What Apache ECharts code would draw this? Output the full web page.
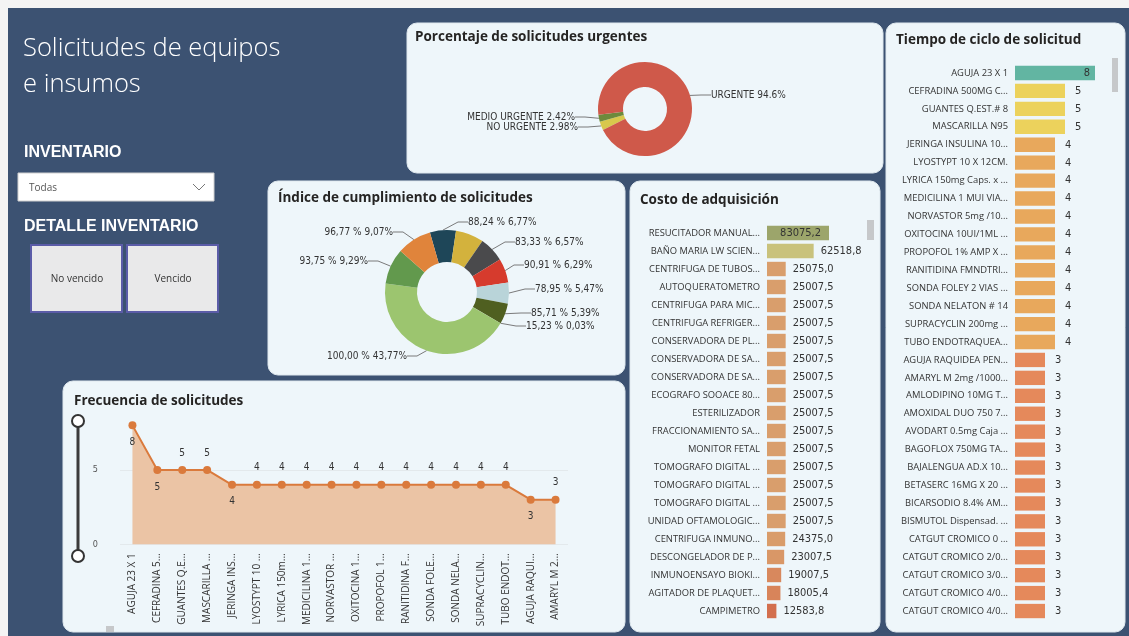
<!DOCTYPE html>
<html>
<head>
<meta charset="utf-8">
<title>Solicitudes de equipos e insumos</title>
<script src="https://cdn.jsdelivr.net/npm/echarts@6/dist/echarts.min.js"></script>
<style>
  html, body { margin: 0; padding: 0; background: #ffffff; }
  #dash { width: 1129px; height: 636px; }
</style>
</head>
<body>
<div id="dash"></div>
<script>
// ---- Porcentaje de solicitudes urgentes ----
const urgencyNames = ['NO URGENTE', 'MEDIO URGENTE', 'URGENTE'];
const urgencyValues = [2.98, 2.42, 94.6];

// ---- Índice de cumplimiento de solicitudes (slice name = % cumplimiento) ----
const complianceNames = ['88,24 %', '', '83,33 %', '90,91 %', '78,95 %', '85,71 %', '15,23 %', '100,00 %', '93,75 %', '96,77 %'];
const complianceValues = [6.77, 7.35, 6.57, 6.29, 5.47, 5.39, 0.03, 43.77, 9.29, 9.07];

// ---- Costo de adquisición ----
const costItems = [
  'RESUCITADOR MANUAL...', 'BAÑO MARIA LW SCIEN...', 'CENTRIFUGA DE TUBOS...', 'AUTOQUERATOMETRO',
  'CENTRIFUGA PARA MIC...', 'CENTRIFUGA REFRIGER...', 'CONSERVADORA DE PL...', 'CONSERVADORA DE SA...',
  'CONSERVADORA DE SA... ', 'ECOGRAFO SOOACE 80...', 'ESTERILIZADOR', 'FRACCIONAMIENTO SA...',
  'MONITOR FETAL', 'TOMOGRAFO DIGITAL ...', 'TOMOGRAFO DIGITAL ... ', 'TOMOGRAFO DIGITAL ...  ',
  'UNIDAD OFTAMOLOGIC...', 'CENTRIFUGA INMUNO...', 'DESCONGELADOR DE P...', 'INMUNOENSAYO BIOKI...',
  'AGITADOR DE PLAQUET...', 'CAMPIMETRO'
];
const costValues = [
  83075.2, 62518.8, 25075.0, 25007.5, 25007.5, 25007.5, 25007.5, 25007.5, 25007.5, 25007.5, 25007.5,
  25007.5, 25007.5, 25007.5, 25007.5, 25007.5, 25007.5, 24375.0, 23007.5, 19007.5, 18005.4, 12583.8
];

// ---- Tiempo de ciclo de solicitud ----
const cycleItems = [
  'AGUJA 23 X 1', 'CEFRADINA 500MG C...', 'GUANTES Q.EST.# 8', 'MASCARILLA N95', 'JERINGA INSULINA 10...',
  'LYOSTYPT 10 X 12CM.', 'LYRICA 150mg Caps. x ...', 'MEDICILINA 1 MUI VIA...', 'NORVASTOR 5mg /10...',
  'OXITOCINA 10UI/1ML ...', 'PROPOFOL 1% AMP X ...', 'RANITIDINA FMNDTRI...', 'SONDA FOLEY 2 VIAS ...',
  'SONDA NELATON # 14', 'SUPRACYCLIN 200mg ...', 'TUBO ENDOTRAQUEA...', 'AGUJA RAQUIDEA PEN...',
  'AMARYL M 2mg /1000...', 'AMLODIPINO 10MG T...', 'AMOXIDAL DUO 750 7...', 'AVODART 0.5mg Caja ...',
  'BAGOFLOX 750MG TA...', 'BAJALENGUA AD.X 10...', 'BETASERC 16MG X 20 ...', 'BICARSODIO 8.4% AM...',
  'BISMUTOL Dispensad. ...', 'CATGUT CROMICO 0 ...', 'CATGUT CROMICO 2/0...', 'CATGUT CROMICO 3/0...',
  'CATGUT CROMICO 4/0...', 'CATGUT CROMICO 4/0... '
];
const cycleValues = [8, 5, 5, 5, 4, 4, 4, 4, 4, 4, 4, 4, 4, 4, 4, 4, 3, 3, 3, 3, 3, 3, 3, 3, 3, 3, 3, 3, 3, 3, 3];

// ---- Frecuencia de solicitudes ----
const freqItems = [
  'AGUJA 23 X 1', 'CEFRADINA 5...', 'GUANTES Q.E...', 'MASCARILLA ...', 'JERINGA INS...', 'LYOSTYPT 10 ...',
  'LYRICA 150m...', 'MEDICILINA 1...', 'NORVASTOR ...', 'OXITOCINA 1...', 'PROPOFOL 1...', 'RANITIDINA F...',
  'SONDA FOLE...', 'SONDA NELA...', 'SUPRACYCLIN...', 'TUBO ENDOT...', 'AGUJA RAQUI...', 'AMARYL M 2...'
];
const freqValues = [8, 5, 5, 5, 4, 4, 4, 4, 4, 4, 4, 4, 4, 4, 4, 4, 3, 3];
const freqAxisTicks = [0, 5];

// ---------- styling helpers ----------
const UI_FONT = "'Open Sans', 'Noto Sans', sans-serif";
const NUM_FONT = "'Liberation Sans Narrow', 'DejaVu Sans Condensed', sans-serif";
const PANEL = '#eef6fa';
const INK = '#252423';

function hexToRgb(h) {
  const n = parseInt(h.slice(1), 16);
  return [(n >> 16) & 255, (n >> 8) & 255, n & 255];
}
// piecewise-linear colour ramp: stops = [[value, '#hex'], ...] ascending
function ramp(stops) {
  return function (v) {
    if (v <= stops[0][0]) return stops[0][1];
    for (let i = 1; i < stops.length; i++) {
      if (v <= stops[i][0]) {
        const t = (v - stops[i - 1][0]) / (stops[i][0] - stops[i - 1][0]);
        const a = hexToRgb(stops[i - 1][1]), b = hexToRgb(stops[i][1]);
        const c = a.map((x, k) => Math.round(x + (b[k] - x) * t));
        return `rgb(${c[0]},${c[1]},${c[2]})`;
      }
    }
    return stops[stops.length - 1][1];
  };
}
const costColor = ramp([[12583.8, '#d36f4e'], [18005.4, '#d8845a'], [25007.5, '#d99e6c'], [62518.8, '#c9c27c'], [83075.2, '#9ca56b']]);
const cycleColor = ramp([[3, '#e5895b'], [4, '#e8a85c'], [5, '#ecd25c'], [8, '#62b5a2']]);
const commaNum = (v, d) => v.toFixed(d).replace('.', ',');

// ---------- label anchor positions for the donuts ----------
const urgencyLabelAt = [
  { x: 581, y: 127, align: 'right' },
  { x: 578, y: 117, align: 'right' },
  { x: 708, y: 95, align: 'left' }
];
const complianceLabelAt = [
  { x: 465, y: 222, align: 'left' },
  null,
  { x: 512, y: 242, align: 'left' },
  { x: 521, y: 265, align: 'left' },
  { x: 532, y: 289, align: 'left' },
  { x: 528, y: 313, align: 'left' },
  { x: 523, y: 326, align: 'left' },
  { x: 410, y: 356, align: 'right' },
  { x: 371, y: 261, align: 'right' },
  { x: 396, y: 232, align: 'right' }
];
const complianceColors = ['#1e4658', '#d3b23d', '#4a4a4c', '#d63b2d', '#b9d4d9', '#4f5f20', '#8f9c78', '#9cc56f', '#62994d', '#e0843b'];
const urgencyColors = ['#d8c84c', '#6d8a3c', '#cf594a'];
const freqBelow = [0, 1, 4, 16];

// ---------- static page furniture ----------
function panel(x, y, w, h) {
  return { type: 'rect', shape: { x, y, width: w, height: h, r: 10 }, style: { fill: PANEL, stroke: '#dfe8ee', lineWidth: 1 }, z: 0 };
}
function txt(text, x, y, font, fill, align) {
  return { type: 'text', x, y, z: 5, style: { text, font, fill: fill || INK, align: align || 'left', verticalAlign: 'middle', textAlign: align || 'left', textVerticalAlign: 'middle' } };
}
const TITLE_FONT = "bold 13.5px " + UI_FONT;
const graphics = [
  { type: 'rect', shape: { x: 0, y: 0, width: 1129, height: 636 }, style: { fill: '#f4f4f4' }, z: -2 },
  { type: 'rect', shape: { x: 8, y: 8, width: 1121, height: 628 }, style: { fill: '#3c5272' }, z: -1 },
  panel(407, 23, 476, 150),
  panel(268, 181, 357, 194),
  panel(630, 181, 250, 451),
  panel(886, 23, 239, 609),
  panel(63, 381, 562, 251),
  txt('Solicitudes de equipos', 23, 49, "300 25.5px 'Open Sans', 'Noto Sans', sans-serif", '#ffffff'),
  txt('e insumos', 23, 85, "300 25.5px 'Open Sans', 'Noto Sans', sans-serif", '#ffffff'),
  txt('INVENTARIO', 24, 153, "bold 16px 'Liberation Sans', Arial, sans-serif", '#ffffff'),
  { type: 'rect', shape: { x: 18, y: 173, width: 196, height: 28 }, style: { fill: '#ffffff', stroke: '#d0d0d0' }, z: 3 },
  txt('Todas', 29, 188, "10px 'Open Sans', sans-serif", '#555555'),
  { type: 'polyline', shape: { points: [[193, 184], [199, 190], [205, 184]] }, style: { stroke: '#777777', lineWidth: 1, fill: null }, z: 5 },
  txt('DETALLE INVENTARIO', 24, 227, "bold 16px 'Liberation Sans', Arial, sans-serif", '#ffffff'),
  { type: 'rect', shape: { x: 31, y: 245, width: 91, height: 67 }, style: { fill: '#e9e9ea', stroke: '#5b5ca8', lineWidth: 2 }, z: 3 },
  { type: 'rect', shape: { x: 127, y: 245, width: 91, height: 67 }, style: { fill: '#e9e9ea', stroke: '#5b5ca8', lineWidth: 2 }, z: 3 },
  txt('No vencido', 77, 279, "10px 'Open Sans', sans-serif", '#333333', 'center'),
  txt('Vencido', 173, 279, "10px 'Open Sans', sans-serif", '#333333', 'center'),
  txt('Porcentaje de solicitudes urgentes', 415, 37, TITLE_FONT),
  txt('Índice de cumplimiento de solicitudes', 278, 198, TITLE_FONT),
  txt('Costo de adquisición', 640, 200, TITLE_FONT),
  txt('Tiempo de ciclo de solicitud', 896, 40, TITLE_FONT),
  txt('Frecuencia de solicitudes', 74, 401, TITLE_FONT),
  // scroll thumbs
  { type: 'rect', shape: { x: 867, y: 220, width: 7, height: 20 }, style: { fill: '#c6c8ca' }, z: 4 },
  { type: 'rect', shape: { x: 1112, y: 58, width: 6, height: 34 }, style: { fill: '#c6c8ca' }, z: 4 },
  { type: 'rect', shape: { x: 106, y: 626, width: 8, height: 6 }, style: { fill: '#c6c8ca' }, z: 4 },
  // vertical range slider
  { type: 'line', shape: { x1: 78, y1: 421, x2: 78, y2: 556 }, style: { stroke: '#3b3b3b', lineWidth: 3 }, z: 4 },
  { type: 'circle', shape: { cx: 78, cy: 421, r: 6 }, style: { fill: '#ffffff', stroke: '#333333', lineWidth: 2 }, z: 5 },
  { type: 'circle', shape: { cx: 78, cy: 556, r: 6 }, style: { fill: '#ffffff', stroke: '#333333', lineWidth: 2 }, z: 5 }
];

const chart = echarts.init(document.getElementById('dash'), null, { renderer: 'canvas' });

const option = {
  animation: false,
  backgroundColor: 'transparent',
  graphic: { elements: graphics },
  grid: [
    { left: 767, top: 224, width: 62, height: 396, containLabel: false },
    { left: 1015, top: 64, width: 80, height: 556, containLabel: false },
    { left: 120, top: 410.5, width: 448, height: 133.8, containLabel: false }
  ],
  xAxis: [
    { gridIndex: 0, type: 'value', min: 0, max: 'dataMax', show: false },
    { gridIndex: 1, type: 'value', min: 0, max: 'dataMax', show: false },
    {
      gridIndex: 2, type: 'category', data: freqItems, boundaryGap: true,
      axisLine: { show: false }, axisTick: { show: false },
      axisLabel: { interval: 0, rotate: 90, fontSize: 10, fontFamily: UI_FONT, color: '#333333', margin: 9 }
    }
  ],
  yAxis: [
    {
      gridIndex: 0, type: 'category', data: costItems, inverse: true,
      axisLine: { show: false }, axisTick: { show: false }, splitLine: { show: false },
      axisLabel: { fontSize: 9.4, fontFamily: UI_FONT, color: '#333333', margin: 7, formatter: v => v.trim() }
    },
    {
      gridIndex: 1, type: 'category', data: cycleItems, inverse: true,
      axisLine: { show: false }, axisTick: { show: false }, splitLine: { show: false },
      axisLabel: { fontSize: 9.4, fontFamily: UI_FONT, color: '#333333', margin: 7, formatter: v => v.trim() }
    },
    {
      gridIndex: 2, type: 'value', min: freqAxisTicks[0], max: 9, interval: freqAxisTicks[1] - freqAxisTicks[0],
      axisLine: { show: false }, axisTick: { show: false },
      axisLabel: { fontSize: 9, fontFamily: NUM_FONT, color: '#555555', margin: 22, showMaxLabel: false },
      splitLine: { show: true, showMaxLine: false, lineStyle: { color: '#e3e9ec', width: 1 } }
    }
  ],
  series: [
    {
      type: 'pie', name: 'urgencia',
      center: [645, 109], radius: [22, 47], startAngle: 206.5, clockwise: true,
      data: urgencyNames.map((n, i) => ({ name: n, value: urgencyValues[i], itemStyle: { color: urgencyColors[i] } })),
      label: {
        show: true, formatter: p => `${p.name} ${p.value}%`,
        fontFamily: NUM_FONT, fontSize: 10, color: '#333333', padding: [0, 3]
      },
      labelLine: { show: true, length: 8, length2: 10, lineStyle: { color: '#7a7a7a', width: 1 } },
      labelLayout: p => {
        const a = urgencyLabelAt[p.dataIndex];
        return { x: a.x, y: a.y, align: a.align, verticalAlign: 'middle' };
      },
      emphasis: { disabled: true }
    },
    {
      type: 'pie', name: 'cumplimiento',
      center: [447, 292], radius: [30, 62], startAngle: 106, clockwise: true,
      data: complianceNames.map((n, i) => ({
        name: n, value: complianceValues[i], itemStyle: { color: complianceColors[i] },
        label: { show: n !== '' }, labelLine: { show: n !== '' }
      })),
      label: {
        formatter: p => `${p.name} ${commaNum(p.value, 2)}%`,
        fontFamily: NUM_FONT, fontSize: 10, color: '#333333', padding: [0, 3]
      },
      labelLine: { length: 8, length2: 10, lineStyle: { color: '#7a7a7a', width: 1 } },
      labelLayout: p => {
        const a = complianceLabelAt[p.dataIndex];
        if (!a) return {};
        return { x: a.x, y: a.y, align: a.align, verticalAlign: 'middle' };
      },
      emphasis: { disabled: true }
    },
    {
      type: 'bar', name: 'costo', xAxisIndex: 0, yAxisIndex: 0,
      barCategoryGap: '20%',
      data: costValues.map(v => ({
        value: v,
        itemStyle: { color: costColor(v) },
        label: v === Math.max(...costValues) ? { position: 'insideRight', distance: 8 } : {}
      })),
      label: {
        show: true, position: 'right', distance: 7,
        formatter: p => commaNum(p.value, 1),
        fontFamily: NUM_FONT, fontSize: 11, color: '#333333'
      },
      emphasis: { disabled: true }
    },
    {
      type: 'bar', name: 'ciclo', xAxisIndex: 1, yAxisIndex: 1,
      barCategoryGap: '20%',
      data: cycleValues.map(v => ({
        value: v,
        itemStyle: { color: cycleColor(v) },
        label: v === Math.max(...cycleValues) ? { position: 'insideRight', distance: 5 } : {}
      })),
      label: {
        show: true, position: 'right', distance: 10,
        fontFamily: NUM_FONT, fontSize: 11, color: '#333333'
      },
      emphasis: { disabled: true }
    },
    {
      type: 'line', name: 'frecuencia', xAxisIndex: 2, yAxisIndex: 2,
      data: freqValues.map((v, i) => ({
        value: v,
        label: { position: freqBelow.includes(i) ? 'bottom' : 'top' }
      })),
      symbol: 'circle', symbolSize: 8,
      itemStyle: { color: '#da7a3c' },
      lineStyle: { color: '#da7a3c', width: 2 },
      areaStyle: { color: '#ebc4a5', opacity: 1 },
      label: { show: true, distance: 8, fontFamily: NUM_FONT, fontSize: 10, color: '#333333' },
      emphasis: { disabled: true }
    }
  ]
};

chart.setOption(option);
</script>
</body>
</html>
